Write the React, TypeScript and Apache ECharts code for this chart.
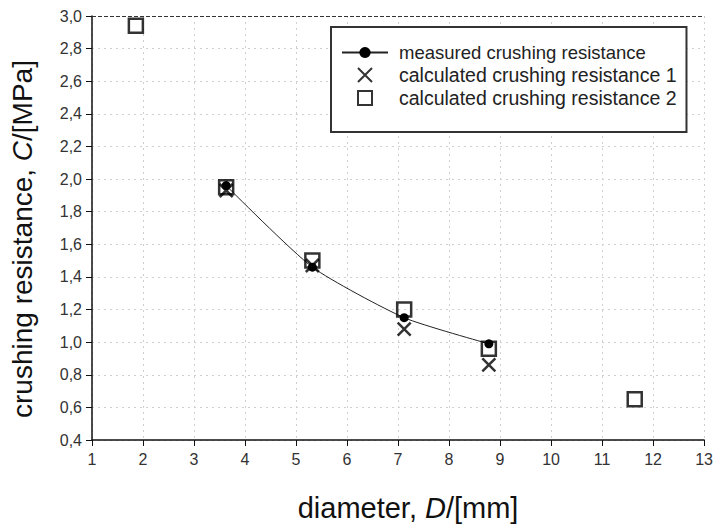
import React, { useEffect, useRef } from "react";
import * as echarts from "echarts";

const measuredD = [3.63, 5.32, 7.12, 8.78];
const measuredC = [1.96, 1.46, 1.15, 0.99];
const calc1D = [3.63, 5.32, 7.12, 8.78];
const calc1C = [1.93, 1.47, 1.08, 0.86];
const calc2D = [1.86, 3.63, 5.32, 7.12, 8.78, 11.64];
const calc2C = [2.94, 1.95, 1.5, 1.2, 0.96, 0.65];
const seriesNames = [
  "measured crushing resistance",
  "calculated crushing resistance 1",
  "calculated crushing resistance 2",
];

const FONT = "'Liberation Sans', Arial, sans-serif";
const CROSS = "path://M0,0L10,10M10,0L0,10";
const SQUARE = "path://M0,0L10,0L10,10L0,10Z";
const fmt = (v: number) => v.toFixed(1).replace(".", ",");

export default function App() {
  const ref = useRef<HTMLDivElement>(null);
  useEffect(() => {
    if (!ref.current) return;
    const chart = echarts.init(ref.current, null, { renderer: "svg" });
    chart.setOption({
      animation: false,
      backgroundColor: "#fff",
      textStyle: { fontFamily: FONT },
      grid: { left: 92, right: 8, top: 16, bottom: 85, containLabel: false },
      legend: {
        orient: "vertical",
        left: 331,
        top: 27,
        itemWidth: 46,
        itemHeight: 14,
        itemGap: 3,
        padding: [16, 10, 24, 10],
        backgroundColor: "#fff",
        borderColor: "#333",
        borderWidth: 2,
        symbolKeepAspect: true,
        textStyle: { fontSize: 18.5, color: "#222", fontFamily: FONT, padding: [0, 0, 0, 6] },
        data: [
          { name: seriesNames[0] },
          { name: seriesNames[1], textStyle: { fontSize: 19.5 } },
          { name: seriesNames[2], textStyle: { fontSize: 19.5 } },
        ],
      },
      xAxis: {
        type: "value",
        min: 1,
        max: 13,
        interval: 1,
        name: "{a|diameter, }{i|D}{a|/[mm]}",
        nameLocation: "middle",
        nameGap: 53,
        nameTextStyle: {
          padding: [0, 0, 0, 20],
          rich: {
            a: { fontSize: 29, color: "#111", fontFamily: FONT },
            i: { fontSize: 29, color: "#111", fontFamily: FONT, fontStyle: "italic" },
          },
        },
        axisLine: { lineStyle: { color: "#111", width: 1.5 } },
        axisTick: { inside: false, length: 6, lineStyle: { color: "#111" } },
        axisLabel: { fontSize: 16, color: "#333", margin: 11 },
        splitLine: { show: true, lineStyle: { color: "#d0d0d0", type: [2, 4] } },
      },
      yAxis: {
        type: "value",
        min: 0.4,
        max: 3.0,
        interval: 0.2,
        name: "{a|crushing resistance, }{i|C}{a|/[MPa]}",
        nameLocation: "middle",
        nameGap: 56,
        nameTextStyle: {
          padding: [0, 22, 0, 0],
          rich: {
            a: { fontSize: 28, color: "#111", fontFamily: FONT },
            i: { fontSize: 28, color: "#111", fontFamily: FONT, fontStyle: "italic" },
          },
        },
        axisLine: { show: true, lineStyle: { color: "#111", width: 1.5 } },
        axisTick: { show: true, inside: false, length: 6, lineStyle: { color: "#111" } },
        axisLabel: { fontSize: 16, color: "#333", margin: 10, formatter: fmt },
        splitLine: { show: true, lineStyle: { color: "#d0d0d0", type: [2, 4] } },
      },
      series: [
        {
          name: seriesNames[0],
          type: "line",
          smooth: 0.2,
          symbol: "circle",
          symbolSize: 9,
          itemStyle: { color: "#000" },
          lineStyle: { color: "#222", width: 1 },
          data: measuredD.map((d, i) => [d, measuredC[i]]),
          z: 3,
          markLine: {
            silent: true,
            symbol: "none",
            label: { show: false },
            lineStyle: { color: "#333", type: [4, 2], width: 1.2 },
            data: [{ yAxis: 3.0 }],
          },
        },
        {
          name: seriesNames[1],
          type: "scatter",
          symbol: CROSS,
          symbolSize: 13,
          itemStyle: { color: "rgba(0,0,0,0)", borderColor: "#000", borderWidth: 2.5 },
          data: calc1D.map((d, i) => [d, calc1C[i]]),
          z: 4,
        },
        {
          name: seriesNames[2],
          type: "scatter",
          symbol: SQUARE,
          symbolSize: 14,
          itemStyle: { color: "rgba(0,0,0,0)", borderColor: "#000", borderWidth: 2.5 },
          data: calc2D.map((d, i) => [d, calc2C[i]]),
          z: 5,
        },
      ],
    });
    return () => chart.dispose();
  }, []);
  return <div ref={ref} style={{ width: 716, height: 527, position: "absolute", left: 0, top: 0 }} />;
}
